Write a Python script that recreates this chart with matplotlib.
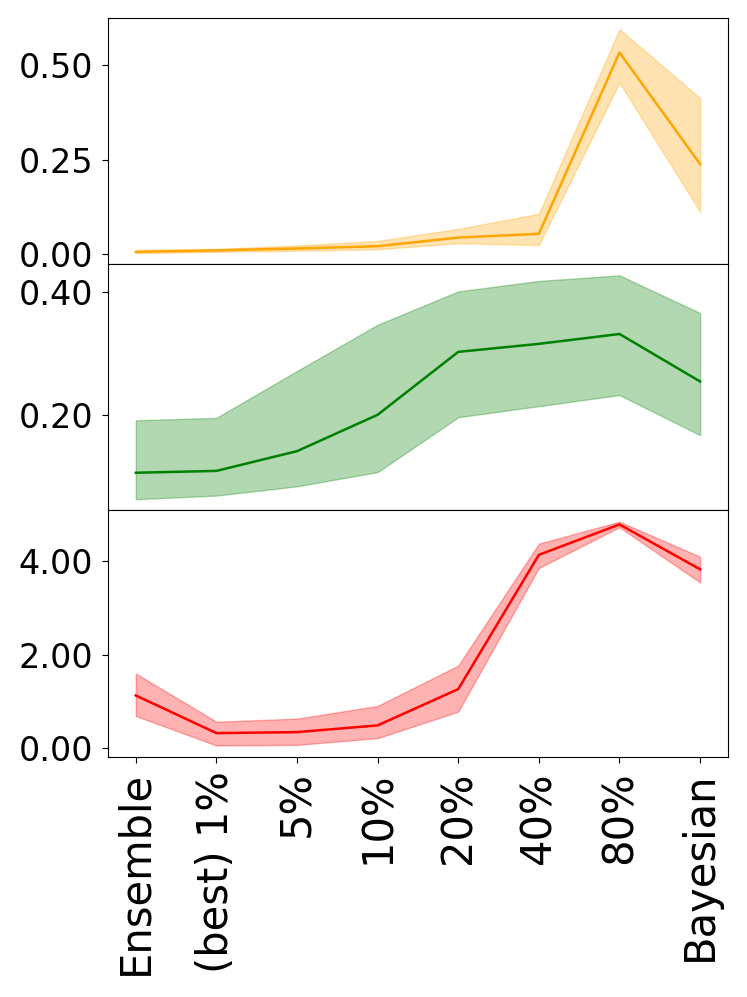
import matplotlib
matplotlib.use("Agg")
import matplotlib.pyplot as plt
import numpy as np
from matplotlib.ticker import FormatStrFormatter

labels = ["Ensemble", "(best) 1%", "5%", "10%", "20%", "40%", "80%", "Bayesian"]

# top panel (orange)
top_mean = [0.005, 0.009, 0.014, 0.020, 0.043, 0.053, 0.534, 0.238]
top_low = [0.002, 0.005, 0.008, 0.012, 0.028, 0.023, 0.454, 0.111]
top_high = [0.010, 0.013, 0.022, 0.034, 0.066, 0.106, 0.596, 0.413]
top_ticks = [0.0, 0.25, 0.5]

# middle panel (green)
mid_mean = [0.107, 0.110, 0.142, 0.201, 0.303, 0.316, 0.332, 0.255]
mid_low = [0.064, 0.070, 0.085, 0.108, 0.197, 0.215, 0.233, 0.168]
mid_high = [0.192, 0.196, 0.272, 0.347, 0.401, 0.418, 0.427, 0.366]
mid_ticks = [0.2, 0.4]

# bottom panel (red)
bot_mean = [1.13, 0.324, 0.345, 0.489, 1.266, 4.14, 4.79, 3.83]
bot_low = [0.69, 0.058, 0.072, 0.216, 0.784, 3.86, 4.73, 3.55]
bot_high = [1.60, 0.568, 0.633, 0.906, 1.77, 4.38, 4.85, 4.10]
bot_ticks = [0.0, 2.0, 4.0]

x = np.arange(len(labels))

fig, axes = plt.subplots(3, 1, figsize=(7.47, 9.97), dpi=100, sharex=True)
fig.subplots_adjust(left=0.144, right=0.975, top=0.982, bottom=0.241, hspace=0)

panels = [
    (top_mean, top_low, top_high, top_ticks, "orange"),
    (mid_mean, mid_low, mid_high, mid_ticks, "green"),
    (bot_mean, bot_low, bot_high, bot_ticks, "red"),
]

for ax, (m, lo, hi, ticks, c) in zip(axes, panels):
    ax.plot(x, m, color=c, linewidth=1.8)
    ax.fill_between(x, lo, hi, color=c, alpha=0.3)
    ax.set_yticks(ticks)
    ax.yaxis.set_major_formatter(FormatStrFormatter("%.2f"))
    ax.tick_params(axis="y", labelsize=24)
    ax.tick_params(axis="both", length=4.5, pad=6)

axes[-1].set_xticks(x)
axes[-1].set_xticklabels(labels, rotation=90, fontsize=30)

plt.savefig("out.png", dpi=100)
